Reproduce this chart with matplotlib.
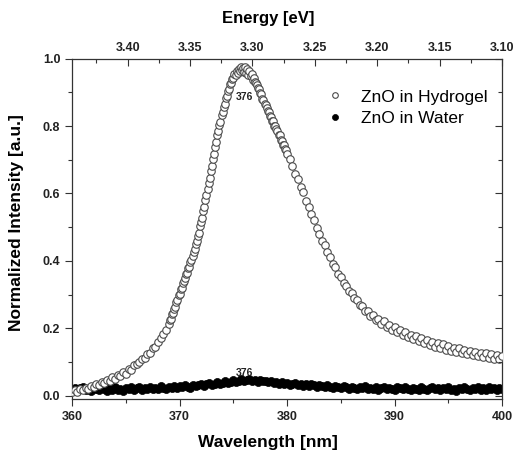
import numpy as np
import matplotlib
matplotlib.use("Agg")
import matplotlib.pyplot as plt
from matplotlib.ticker import MultipleLocator

plt.rcParams['font.family'] = ['Liberation Sans', 'DejaVu Sans']

# --- data ---
# wavelength grid for the hydrogel spectrum (denser sampling across the steep peak)
wl_gel = np.concatenate([
    np.linspace(360.0, 368.75, 36),
    np.linspace(369.0, 379.9, 110),
    np.linspace(380.0, 400.0, 81),
])
int_gel = [
    # 360.00 - 368.75 (step 0.25)
    0.010, 0.016, 0.012, 0.020, 0.017, 0.024, 0.021, 0.030,
    0.026, 0.035, 0.031, 0.042, 0.038, 0.048, 0.044, 0.056,
    0.051, 0.062, 0.058, 0.071, 0.066, 0.080, 0.077, 0.090,
    0.093, 0.100, 0.108, 0.113, 0.124, 0.128, 0.141, 0.146,
    0.160, 0.170, 0.183, 0.196,
    # 369.0 - 379.9 (step 0.1)
    0.212, 0.224, 0.228, 0.242, 0.246, 0.258, 0.263, 0.278, 0.284, 0.299,
    0.303, 0.316, 0.320, 0.333, 0.340, 0.348, 0.360, 0.364, 0.378, 0.383,
    0.396, 0.404, 0.414, 0.425, 0.434, 0.450, 0.458, 0.475, 0.484, 0.503,
    0.516, 0.528, 0.547, 0.560, 0.580, 0.596, 0.612, 0.631, 0.645, 0.668,
    0.682, 0.703, 0.716, 0.738, 0.752, 0.772, 0.784, 0.803, 0.812, 0.832,
    0.843, 0.858, 0.866, 0.883, 0.890, 0.904, 0.911, 0.925, 0.928, 0.941,
    0.944, 0.955, 0.950, 0.963, 0.958, 0.968, 0.962, 0.975, 0.966, 0.972,
    0.961, 0.974, 0.958, 0.969, 0.952, 0.962, 0.948, 0.954, 0.938, 0.942,
    0.932, 0.928, 0.921, 0.912, 0.909, 0.898, 0.894, 0.880, 0.878, 0.866,
    0.861, 0.855, 0.844, 0.841, 0.830, 0.828, 0.816, 0.814, 0.801, 0.799,
    0.790, 0.786, 0.774, 0.772, 0.760, 0.757, 0.745, 0.743, 0.731, 0.729,
    # 380.00 - 400.00 (step 0.25)
    0.718, 0.702, 0.683, 0.657, 0.642, 0.618, 0.603, 0.577,
    0.561, 0.538, 0.522, 0.497, 0.481, 0.460, 0.447, 0.425,
    0.412, 0.392, 0.381, 0.362, 0.352, 0.334, 0.327, 0.311,
    0.304, 0.289, 0.285, 0.270, 0.267, 0.252, 0.250, 0.236,
    0.240, 0.226, 0.229, 0.214, 0.221, 0.205, 0.210, 0.196,
    0.203, 0.189, 0.195, 0.180, 0.190, 0.174, 0.181, 0.167,
    0.177, 0.161, 0.170, 0.156, 0.166, 0.150, 0.160, 0.146,
    0.157, 0.141, 0.153, 0.137, 0.148, 0.133, 0.142, 0.129,
    0.141, 0.126, 0.135, 0.123, 0.134, 0.120, 0.130, 0.118,
    0.128, 0.114, 0.126, 0.113, 0.124, 0.110, 0.121, 0.108,
    0.118,
]

wl_water = np.linspace(360.0, 400.0, 161)
int_water = [
    0.018, 0.024, 0.015, 0.022, 0.026, 0.017, 0.021, 0.013,
    0.024, 0.019, 0.016, 0.025, 0.020, 0.014, 0.023, 0.018,
    0.026, 0.017, 0.021, 0.015, 0.024, 0.020, 0.027, 0.016,
    0.022, 0.025, 0.018, 0.023, 0.019, 0.027, 0.021, 0.024,
    0.020, 0.028, 0.023, 0.019, 0.027, 0.024, 0.030, 0.022,
    0.029, 0.025, 0.032, 0.027, 0.023, 0.033, 0.028, 0.031,
    0.036, 0.030, 0.034, 0.038, 0.032, 0.036, 0.041, 0.035,
    0.039, 0.044, 0.037, 0.042, 0.046, 0.040, 0.045, 0.049,
    0.043, 0.047, 0.050, 0.044, 0.046, 0.041, 0.048, 0.043,
    0.045, 0.040, 0.043, 0.038, 0.042, 0.036, 0.040, 0.035,
    0.038, 0.033, 0.036, 0.039, 0.031, 0.035, 0.030, 0.034,
    0.029, 0.034, 0.031, 0.027, 0.032, 0.028, 0.025, 0.031,
    0.027, 0.023, 0.030, 0.026, 0.022, 0.028, 0.025, 0.020,
    0.027, 0.023, 0.019, 0.026, 0.022, 0.028, 0.020, 0.024,
    0.021, 0.026, 0.018, 0.023, 0.027, 0.019, 0.024, 0.021,
    0.017, 0.025, 0.022, 0.019, 0.026, 0.020, 0.016, 0.024,
    0.021, 0.018, 0.025, 0.020, 0.016, 0.023, 0.027, 0.019,
    0.022, 0.017, 0.024, 0.020, 0.026, 0.018, 0.021, 0.015,
    0.023, 0.019, 0.025, 0.021, 0.017, 0.024, 0.020, 0.026,
    0.018, 0.022, 0.016, 0.025, 0.020, 0.023, 0.017, 0.022,
    0.021,
]

peak_labels = [("376", 376.0, 0.885), ("376", 376.0, 0.068)]
energy_ticks = [3.40, 3.35, 3.30, 3.25, 3.20, 3.15, 3.10]

TICK_FS = 9
LABEL_FS = 12.5

# --- figure ---
fig = plt.figure(figsize=(5.15, 4.51), dpi=100)
ax = fig.add_axes([0.140, 0.115, 0.835, 0.755])

ax.plot(wl_water, int_water, 'o', color='black', markersize=5.8,
        markeredgewidth=0.5, label='ZnO in Water', zorder=2)
ax.plot(wl_gel, int_gel, 'o', markerfacecolor='white', markeredgecolor='#4a4a4a',
        markersize=5.4, markeredgewidth=0.8, label='ZnO in Hydrogel', zorder=3)

for txt, xx, yy in peak_labels:
    ax.text(xx, yy, txt, ha='center', va='center', fontsize=7.5,
            fontweight='bold', color='#222222', zorder=4)

ax.set_xlim(360, 400)
ax.set_ylim(-0.01, 1.0)
ax.xaxis.set_major_locator(MultipleLocator(10))
ax.xaxis.set_minor_locator(MultipleLocator(5))
ax.yaxis.set_major_locator(MultipleLocator(0.2))
ax.yaxis.set_minor_locator(MultipleLocator(0.1))
ax.yaxis.set_major_formatter(plt.FormatStrFormatter('%.1f'))

ax.tick_params(axis='both', which='both', direction='out', width=0.8,
               labelsize=TICK_FS, colors='#333333', labelcolor='#222222')
ax.tick_params(which='major', length=5)
ax.tick_params(which='minor', length=3)
for lab in ax.get_xticklabels() + ax.get_yticklabels():
    lab.set_fontweight('bold')

ax.set_xlabel('Wavelength [nm]', fontsize=LABEL_FS, fontweight='bold')
ax.set_ylabel('Normalized Intensity [a.u.]', fontsize=LABEL_FS, fontweight='bold')
ax.xaxis.set_label_coords(0.455, -0.105)
ax.yaxis.set_label_coords(-0.112, 0.52)

for sp in ax.spines.values():
    sp.set_linewidth(0.9)
    sp.set_color('#333333')

# right axis: inward ticks, no labels
ax3 = ax.twinx()
ax3.set_ylim(ax.get_ylim())
ax3.yaxis.set_major_locator(MultipleLocator(0.2))
ax3.yaxis.set_minor_locator(MultipleLocator(0.1))
ax3.tick_params(axis='y', which='both', direction='in', width=0.8,
                colors='#333333', labelright=False)
ax3.tick_params(which='major', length=5)
ax3.tick_params(which='minor', length=3)
for sp in ax3.spines.values():
    sp.set_visible(False)

# top axis: photon energy (linear, matched to wavelength limits)
ax2 = ax.twiny()
ax2.set_xlim(1240.0 / 360.0, 1240.0 / 400.0)
ax2.set_xticks(energy_ticks)
ax2.xaxis.set_minor_locator(MultipleLocator(0.025))
ax2.xaxis.set_major_formatter(plt.FormatStrFormatter('%.2f'))
ax2.tick_params(axis='x', which='both', direction='in', width=0.8,
                labelsize=TICK_FS, colors='#333333', labelcolor='#222222')
ax2.tick_params(which='major', length=5)
ax2.tick_params(which='minor', length=3)
for lab in ax2.get_xticklabels():
    lab.set_fontweight('bold')
ax2.set_xlabel('Energy [eV]', fontsize=12, fontweight='bold')
ax2.xaxis.set_label_coords(0.455, 1.105)
for sp in ax2.spines.values():
    sp.set_visible(False)

handles, labels = ax.get_legend_handles_labels()
ax.legend(handles[::-1], labels[::-1], loc='upper left',
          bbox_to_anchor=(0.57, 0.93), frameon=False,
          fontsize=12.5, handletextpad=0.8, markerscale=0.75, borderaxespad=0.0,
          handlelength=1.3, labelspacing=0.35)

fig.savefig('out.png', dpi=100)
